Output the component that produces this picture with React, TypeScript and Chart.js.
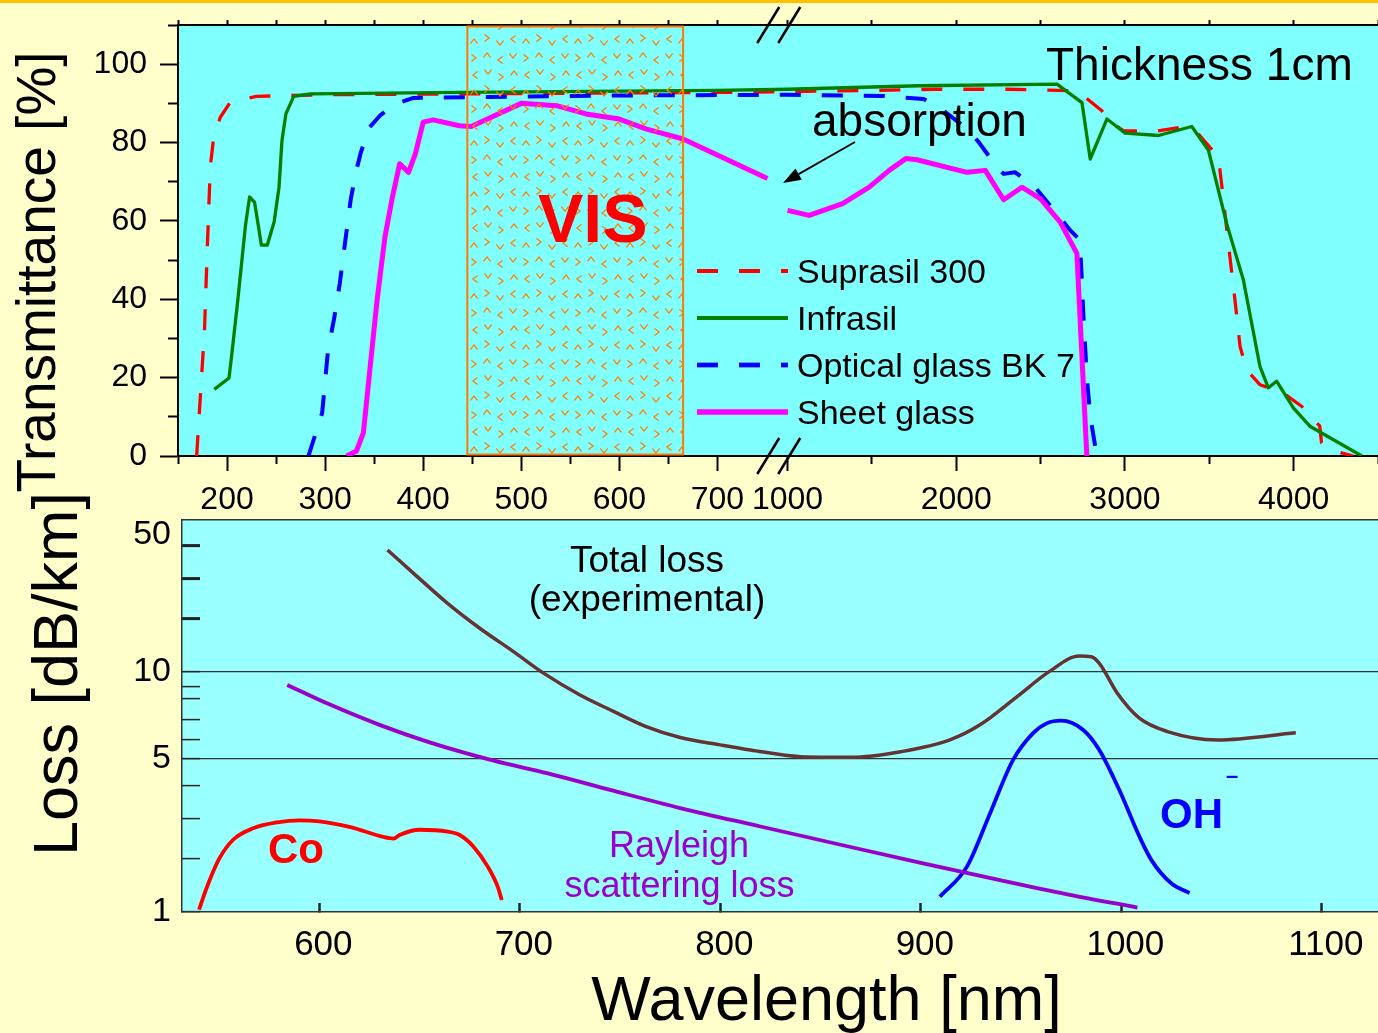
import { useEffect, useRef } from 'react';
import { Chart, registerables, LinearScale } from 'chart.js';

Chart.register(...registerables);

const FONT = '"Liberation Sans", Arial, Helvetica, sans-serif';
const W = 1378;
const H = 1033;

// ---------------- Top panel: transmittance [%] vs wavelength [nm] ----------------
const SUPRASIL_NM = [169, 173, 177, 180, 183, 186, 193, 203, 230, 300, 500, 700, 1000, 1500, 1870, 2300, 2715, 2755, 2863, 2903, 2992, 3189, 3327, 3426, 3554, 3584, 3613, 3652, 3682, 3721, 3800, 3938, 4047, 4155, 4165, 4274, 4353];
const SUPRASIL_T = [0, 16, 32, 54, 74, 80.5, 86.4, 90.2, 91.8, 92.2, 92.5, 92.8, 93.0, 93.3, 93.6, 93.6, 93.2, 91.9, 88.1, 85.6, 83, 82.9, 83.9, 82.6, 76.3, 65.3, 54.2, 39.8, 28, 22, 18.2, 16.1, 12.7, 7.6, 3.4, 0.9, 0];

const INFRASIL_NM = [187, 202, 205, 211, 219, 223, 228, 231, 235, 241, 248, 253, 256, 260, 268, 285, 437, 700, 1000, 1780, 2597, 2745, 2794, 2893, 3001, 3199, 3396, 3495, 3603, 3702, 3800, 3850, 3899, 3998, 4096, 4404];
const INFRASIL_T = [17, 19.9, 26.3, 39.8, 59.3, 66.1, 64.8, 60.2, 53.8, 53.8, 59.7, 68.6, 80.5, 87.3, 91.8, 92.4, 92.8, 93.3, 93.6, 94.5, 94.9, 90.2, 75.8, 86, 82.4, 81.8, 84.1, 78, 59.3, 44.9, 22.9, 17.4, 19.1, 12.3, 7.6, 0];

const BK7_NM = [283, 297, 303, 309, 315, 320, 326, 331, 336, 344, 356, 371, 390, 417, 600, 1000, 1561, 1807, 1926, 2064, 2133, 2242, 2281, 2350, 2468, 2676, 2725, 2735, 2755, 2774, 2794, 2833];
const BK7_T = [0, 11, 27.1, 34.8, 44.1, 53.8, 65.3, 72, 77.1, 83.5, 86.9, 89.8, 91.4, 91.5, 92, 92.2, 91.9, 91.1, 88.1, 83.5, 80.1, 73.7, 72, 72.4, 68.6, 57.6, 55.5, 53.4, 34.7, 20.3, 10.2, 0];

const SHEET_NM = [322, 332, 339, 346, 353, 361, 368, 376, 385, 392, 400, 410, 437, 449, 500, 536, 566, 600, 627, 665, 751, 850, 1000, 1128, 1326, 1484, 1602, 1701, 1767, 2064, 2172, 2281, 2389, 2498, 2616, 2715, 2774];
const SHEET_T = [0, 1.3, 5.9, 22.9, 39.8, 55.9, 65.3, 74.6, 72.4, 77.1, 85.2, 85.8, 84.3, 84.1, 90, 89.4, 87.3, 86, 83.5, 80.9, 70.8, null, 62.7, 61.4, 64.4, 68.6, 72.9, 75.9, 75.6, 72.4, 72.9, 65.4, 68.6, 65.7, 59.7, 51.7, 0];

const TOP_X_TICKS = [150, 200, 250, 300, 350, 400, 450, 500, 550, 600, 650, 700, 1000, 1500, 2000, 2500, 3000, 3500, 4000, 4500];
const TOP_X_LABELS = [200, 300, 400, 500, 600, 700, 1000, 2000, 3000, 4000];
const TOP_Y_TICKS = [0, 10, 20, 30, 40, 50, 60, 70, 80, 90, 100, 110];
const TOP_Y_LABELS = [0, 20, 40, 60, 80, 100];
const VIS_RANGE = [445, 665];

// ---------------- Bottom panel: loss [dB/km] vs wavelength [nm] ----------------
const TOTAL_NM = [634, 647, 663.5, 680, 697, 712, 730, 747, 763, 780, 800, 815, 840, 865, 890, 914.5, 929.5, 948, 964, 979, 985, 989, 998, 1009, 1023, 1048, 1087];
const TOTAL_DB = [38.6, 31.5, 23.6, 17.7, 13.0, 9.9, 8.32, 7.38, 6.65, 6.11, 5.72, 5.45, 5.11, 5.08, 5.36, 6.0, 6.74, 8.19, 10.04, 12.3, 12.2, 11.2, 8.46, 7.08, 6.4, 6.0, 6.34];

const RAYLEIGH_NM = [584, 605, 630, 655, 687, 714, 747, 780, 820, 860, 900, 940, 973, 1008];
const RAYLEIGH_DB = [9.13, 7.73, 6.74, 5.86, 4.93, 4.44, 3.83, 3.3, 2.78, 2.31, 1.9, 1.51, 1.26, 1.06];

const OH_NM = [909.5, 923, 934.5, 946, 956, 963, 970, 981, 989, 999, 1009, 1015, 1025, 1034];
const OH_DB = [1.22, 1.81, 3.15, 4.96, 6.32, 6.83, 6.96, 6.48, 5.45, 3.86, 2.51, 1.97, 1.45, 1.28];

const CO_NM = [540, 544, 550, 557, 567, 579, 590, 600, 615, 632, 637, 640, 650, 664, 670, 677, 684, 689, 691];
const CO_DB = [1.03, 1.39, 2.0, 2.43, 2.73, 2.9, 2.96, 2.93, 2.77, 2.5, 2.46, 2.55, 2.69, 2.64, 2.55, 2.26, 1.81, 1.39, 1.17];

const LOSS_X_TICKS = [600, 700, 800, 900, 1000, 1100];
const LOSS_Y_TICKS = [1, 2, 3, 4, 5, 6, 7, 8, 9, 10, 20, 30, 40, 50];
const LOSS_Y_LABELS = [1, 5, 10, 50];
const LOSS_Y_GRID = [5, 10];
const LOSS_Y_HEAVY = [20, 30, 40];

// ---------------- axis calibration (broken / hand-drawn scales) ----------------
const NM_BREAK = { leftEnd: 760, rightStart: 933, rightScale: 0.172 };
const LOSS_AXIS_VALUES = [1, 2, 3, 4, 5, 6, 7, 8, 9, 10, 20, 30, 40, 50, 60];
const LOSS_AXIS_DECADES = [0, 0.221, 0.3875, 0.525, 0.6375, 0.717, 0.8, 0.8875, 0.9375, 1, 1.221, 1.3875, 1.525, 1.571, 1.633];

function warpNm(v: number): number {
  if (v <= NM_BREAK.leftEnd) return v;
  if (v >= NM_BREAK.rightStart) return NM_BREAK.leftEnd + (v - NM_BREAK.rightStart) * NM_BREAK.rightScale;
  return NM_BREAK.leftEnd;
}

function warpLoss(v: number): number {
  const lv = Math.log10(Math.max(v, 1e-3));
  const n = LOSS_AXIS_VALUES.length;
  let i = 1;
  while (i < n - 1 && lv > Math.log10(LOSS_AXIS_VALUES[i])) i++;
  const a = Math.log10(LOSS_AXIS_VALUES[i - 1]);
  const b = Math.log10(LOSS_AXIS_VALUES[i]);
  const t = (lv - a) / (b - a);
  return LOSS_AXIS_DECADES[i - 1] + t * (LOSS_AXIS_DECADES[i] - LOSS_AXIS_DECADES[i - 1]);
}

class WarpedScale extends LinearScale {
  warpValue(v: number): number {
    return v;
  }
  getPixelForValue(value: any): number {
    if (value === null || value === undefined || Number.isNaN(value)) return NaN;
    const a = this.warpValue((this as any).min);
    const b = this.warpValue((this as any).max);
    return (this as any).getPixelForDecimal((this.warpValue(value) - a) / (b - a));
  }
}
class BrokenNmScale extends WarpedScale {
  static id = 'brokenNm';
  static defaults = {};
  warpValue(v: number): number {
    return warpNm(v);
  }
}
class LossScale extends WarpedScale {
  static id = 'lossWarp';
  static defaults = {};
  warpValue(v: number): number {
    return warpLoss(v);
  }
}
Chart.register(BrokenNmScale as any, LossScale as any);

function pairs(xs: number[], ys: (number | null)[]) {
  return xs.map((x, i) => ({ x, y: ys[i] }));
}

function font(size: number, bold = false) {
  return `${bold ? 'bold ' : ''}${size}px ${FONT}`;
}

function text(ctx: CanvasRenderingContext2D, s: string, x: number, y: number, f: string, color: string, align: CanvasTextAlign = 'left', rot = 0) {
  ctx.save();
  ctx.translate(x, y);
  if (rot) ctx.rotate(rot);
  ctx.font = f;
  ctx.fillStyle = color;
  ctx.textAlign = align;
  ctx.textBaseline = 'alphabetic';
  ctx.fillText(s, 0, 0);
  ctx.restore();
}

// fixes a scale's box to an exact size and removes label overflow padding
function fixBox(size: { width?: number; height?: number }) {
  return (s: any) => {
    if (size.width !== undefined) s.width = size.width;
    if (size.height !== undefined) s.height = size.height;
    s.paddingLeft = 0;
    s.paddingRight = 0;
    s.paddingTop = 0;
    s.paddingBottom = 0;
  };
}

const VIS_MARKS: [number, number, string][] = [
  [6, 7, '>'], [19, 4, '^'], [32, 9, '<'], [45, 5, 'v'],
  [7, 24, '<'], [20, 21, 'v'], [33, 26, '>'], [46, 22, '^'],
  [6, 41, '^'], [19, 38, '>'], [32, 43, 'v'], [45, 39, '<'],
];

function makeVisPattern(ctx: CanvasRenderingContext2D) {
  const tile = document.createElement('canvas');
  tile.width = 52;
  tile.height = 51;
  const t = tile.getContext('2d')!;
  t.strokeStyle = '#FF8000';
  t.lineWidth = 1.25;
  t.lineCap = 'round';
  t.lineJoin = 'round';
  const s = 3.3;
  const d = 2.2;
  for (const [x, y, k] of VIS_MARKS) {
    t.beginPath();
    if (k === '<') { t.moveTo(x + d, y - s); t.lineTo(x - d, y); t.lineTo(x + d, y + s); }
    if (k === '>') { t.moveTo(x - d, y - s); t.lineTo(x + d, y); t.lineTo(x - d, y + s); }
    if (k === '^') { t.moveTo(x - s, y + d); t.lineTo(x, y - d); t.lineTo(x + s, y + d); }
    if (k === 'v') { t.moveTo(x - s, y - d); t.lineTo(x, y + d); t.lineTo(x + s, y - d); }
    t.stroke();
  }
  return ctx.createPattern(tile, 'repeat')!;
}

const topDecor = {
  id: 'topDecor',
  beforeDraw(chart: any) {
    const { ctx, chartArea: a } = chart;
    ctx.save();
    ctx.fillStyle = '#80FFFF';
    ctx.fillRect(a.left, a.top, a.right - a.left, a.bottom - a.top);
    ctx.restore();
  },
  afterDatasetsDraw(chart: any) {
    const { ctx, chartArea: a, scales } = chart;
    const x0 = scales.x.getPixelForValue(VIS_RANGE[0]);
    const x1 = scales.x.getPixelForValue(VIS_RANGE[1]);
    ctx.save();
    ctx.fillStyle = makeVisPattern(ctx);
    ctx.fillRect(x0, a.top + 1, x1 - x0, a.bottom - a.top - 2);
    ctx.strokeStyle = '#FF7A00';
    ctx.lineWidth = 2;
    ctx.strokeRect(x0, a.top + 1.5, x1 - x0, a.bottom - a.top - 3);
    ctx.restore();
  },
  afterDraw(chart: any) {
    const { ctx, chartArea: a, scales } = chart;
    ctx.save();
    // axis break marks
    const bx = scales.x.getPixelForValue(NM_BREAK.leftEnd) + 2;
    ctx.strokeStyle = '#000';
    ctx.lineWidth = 2.5;
    for (const yc of [a.top, a.bottom]) {
      for (const dx of [0, 21]) {
        ctx.beginPath();
        ctx.moveTo(bx - 21 + dx, yc + 18);
        ctx.lineTo(bx + 1 + dx, yc - 18);
        ctx.stroke();
      }
    }
    // legend
    const rows = [271, 318, 365, 412];
    chart.data.datasets.forEach((ds: any, i: number) => {
      const y = rows[i];
      ctx.beginPath();
      ctx.setLineDash(ds.borderDash || []);
      ctx.strokeStyle = ds.borderColor;
      ctx.lineWidth = ds.borderWidth + 0.7;
      ctx.moveTo(697, y);
      ctx.lineTo(788, y);
      ctx.stroke();
      ctx.setLineDash([]);
      text(ctx, ds.label, 797, y + 12, font(34), '#000');
    });
    // annotations
    text(ctx, 'VIS', 538, 242, font(68, true), '#FF0000');
    text(ctx, 'Thickness 1cm', 1046, 80, font(46), '#000');
    text(ctx, 'absorption', 812, 136, font(46), '#000');
    // arrow
    const ax0 = 855, ay0 = 142, ax1 = 783, ay1 = 183;
    const ang = Math.atan2(ay1 - ay0, ax1 - ax0);
    const hl = 18, hw = 6.5;
    const bxh = ax1 - hl * Math.cos(ang), byh = ay1 - hl * Math.sin(ang);
    ctx.strokeStyle = '#000';
    ctx.lineWidth = 1.8;
    ctx.beginPath();
    ctx.moveTo(ax0, ay0);
    ctx.lineTo(bxh, byh);
    ctx.stroke();
    ctx.fillStyle = '#000';
    ctx.beginPath();
    ctx.moveTo(ax1, ay1);
    ctx.lineTo(bxh + hw * Math.sin(ang), byh - hw * Math.cos(ang));
    ctx.lineTo(bxh - hw * Math.sin(ang), byh + hw * Math.cos(ang));
    ctx.closePath();
    ctx.fill();
    // y title
    text(ctx, 'Transmittance [%]', 55, 272, font(55), '#000', 'center', -Math.PI / 2);
    ctx.restore();
  },
};

const bottomDecor = {
  id: 'bottomDecor',
  beforeDraw(chart: any) {
    const { ctx, chartArea: a } = chart;
    ctx.save();
    ctx.fillStyle = '#99FFFF';
    ctx.fillRect(a.left, a.top, a.right - a.left, a.bottom - a.top);
    ctx.restore();
  },
  afterDraw(chart: any) {
    const { ctx } = chart;
    ctx.save();
    text(ctx, 'Total loss', 647, 572, font(37), '#000', 'center');
    text(ctx, '(experimental)', 647, 611, font(37), '#000', 'center');
    text(ctx, 'Rayleigh', 679, 857, font(36), '#9900CC', 'center');
    text(ctx, 'scattering loss', 679.5, 897, font(36), '#9900CC', 'center');
    text(ctx, 'Co', 268, 863, font(42, true), '#FF0000');
    text(ctx, 'OH', 1160, 828, font(42, true), '#0000FF');
    text(ctx, '\u2013', 1226, 783, font(22, true), '#0000FF');
    text(ctx, 'Wavelength [nm]', 826.5, 1020, font(63), '#000', 'center');
    text(ctx, 'Loss [dB/km]', 77, 674, font(63), '#000', 'center', -Math.PI / 2);
    ctx.restore();
  },
};

const lineBase = {
  pointRadius: 0,
  pointHoverRadius: 0,
  fill: false,
  borderCapStyle: 'butt',
  borderJoinStyle: 'round',
};

function topConfig(): any {
  const datasets = [
    { label: 'Suprasil 300', data: pairs(SUPRASIL_NM, SUPRASIL_T), borderColor: '#FF0000', borderWidth: 3.3, borderDash: [21, 21], order: 3 },
    { label: 'Infrasil', data: pairs(INFRASIL_NM, INFRASIL_T), borderColor: '#008000', borderWidth: 3.3, order: 1 },
    { label: 'Optical glass BK 7', data: pairs(BK7_NM, BK7_T), borderColor: '#0000FF', borderWidth: 4, borderDash: [21, 21], order: 2 },
    { label: 'Sheet glass', data: pairs(SHEET_NM, SHEET_T), borderColor: '#FF00FF', borderWidth: 5, order: 0 },
  ].map((d) => ({ ...lineBase, tension: 0, ...d }));

  const xTicks = (s: any) => {
    s.ticks = TOP_X_TICKS.map((v) => ({ value: v }));
  };
  const isMajorX = (v: number) => TOP_X_LABELS.includes(v);

  return {
    type: 'line',
    data: { datasets },
    options: {
      responsive: false,
      animation: false,
      devicePixelRatio: 1,
      events: [],
      spanGaps: false,
      layout: { padding: { top: 20, bottom: H - 520, left: 0, right: 0 }, autoPadding: false },
      plugins: { legend: { display: false }, tooltip: { enabled: false } },
      scales: {
        x: {
          type: 'brokenNm',
          position: 'bottom',
          min: 150,
          max: 4500,
          afterBuildTicks: xTicks,
          afterFit: fixBox({ height: 64 }),
          ticks: {
            autoSkip: false,
            maxRotation: 0,
            minRotation: 0,
            padding: 10,
            color: '#000',
            font: { family: FONT, size: 32 },
            callback: (v: number) => (isMajorX(v) ? String(v) : ''),
          },
          grid: {
            drawOnChartArea: false,
            tickLength: 15,
            tickWidth: 2,
            tickColor: '#000',
            tickBorderDash: (ctx: any) => (ctx.tick && isMajorX(ctx.tick.value) ? [] : [7, 60]),
          },
          border: { display: true, color: '#000', width: 2 },
        },
        x2: {
          type: 'brokenNm',
          position: 'top',
          axis: 'x',
          min: 150,
          max: 4500,
          afterBuildTicks: xTicks,
          afterFit: fixBox({ height: 5 }),
          ticks: { display: false, autoSkip: false },
          grid: { drawOnChartArea: false, tickLength: 5, tickWidth: 2, tickColor: '#000' },
          border: { display: true, color: '#000', width: 2 },
        },
        y: {
          type: 'linear',
          position: 'left',
          min: 0,
          max: 110,
          afterBuildTicks: (s: any) => { s.ticks = TOP_Y_TICKS.map((v) => ({ value: v })); },
          afterFit: fixBox({ width: 178 }),
          ticks: {
            autoSkip: false,
            padding: 13,
            color: '#000',
            font: { family: FONT, size: 32 },
            callback: (v: number) => (TOP_Y_LABELS.includes(v) ? String(v) : ''),
          },
          grid: {
            drawOnChartArea: false,
            tickLength: 18,
            tickWidth: 2,
            tickColor: '#000',
            tickBorderDash: (ctx: any) => (ctx.tick && TOP_Y_LABELS.includes(ctx.tick.value) ? [] : [0, 8, 40, 0]),
          },
          border: { display: true, color: '#000', width: 2 },
        },
      },
    },
    plugins: [topDecor],
  };
}

function bottomConfig(): any {
  const datasets = [
    { label: 'Total loss (experimental)', data: pairs(TOTAL_NM, TOTAL_DB), borderColor: '#663333', borderWidth: 3.5 },
    { label: 'Rayleigh scattering loss', data: pairs(RAYLEIGH_NM, RAYLEIGH_DB), borderColor: '#9900CC', borderWidth: 3.8 },
    { label: 'OH-', data: pairs(OH_NM, OH_DB), borderColor: '#0000FF', borderWidth: 3.8 },
    { label: 'Co', data: pairs(CO_NM, CO_DB), borderColor: '#FF0000', borderWidth: 3.8 },
  ].map((d) => ({ ...lineBase, cubicInterpolationMode: 'monotone', ...d }));

  return {
    type: 'line',
    data: { datasets },
    options: {
      responsive: false,
      animation: false,
      devicePixelRatio: 1,
      events: [],
      layout: { padding: { top: 520, bottom: 0, left: 0, right: 0 }, autoPadding: false },
      plugins: { legend: { display: false }, tooltip: { enabled: false } },
      scales: {
        x: {
          type: 'linear',
          position: 'bottom',
          min: 531.5,
          max: 1128,
          afterBuildTicks: (s: any) => { s.ticks = LOSS_X_TICKS.map((v) => ({ value: v })); },
          afterFit: fixBox({ height: H - 912 }),
          ticks: {
            autoSkip: false,
            maxRotation: 0,
            minRotation: 0,
            padding: 21,
            labelOffset: 4,
            color: '#000',
            font: { family: FONT, size: 35 },
            callback: (v: number) => String(v),
          },
          grid: { drawOnChartArea: false, tickLength: -9, tickWidth: 2.5, tickColor: '#222' },
          border: { display: true, color: '#333', width: 1.5 },
        },
        x2: {
          type: 'linear',
          position: 'top',
          axis: 'x',
          min: 531.5,
          max: 1128,
          afterFit: fixBox({ height: 0 }),
          ticks: { display: false },
          grid: { display: false, drawTicks: false },
          border: { display: true, color: '#333', width: 1.5 },
        },
        y: {
          type: 'lossWarp',
          position: 'left',
          min: 1,
          max: 60,
          afterBuildTicks: (s: any) => { s.ticks = LOSS_Y_TICKS.map((v) => ({ value: v })); },
          afterFit: fixBox({ width: 182 }),
          ticks: {
            autoSkip: false,
            padding: 29,
            color: '#000',
            font: { family: FONT, size: 34 },
            callback: (v: number) => (LOSS_Y_LABELS.includes(v) ? String(v) : ''),
          },
          grid: {
            drawOnChartArea: true,
            color: (ctx: any) => (ctx.tick && LOSS_Y_GRID.includes(ctx.tick.value) ? '#333' : 'rgba(0,0,0,0)'),
            lineWidth: 1.2,
            tickLength: -18,
            tickWidth: (ctx: any) => (ctx.tick && LOSS_Y_HEAVY.includes(ctx.tick.value) ? 3 : 1.5),
            tickColor: (ctx: any) => (ctx.tick && ctx.tick.value === 50 ? 'rgba(0,0,0,0)' : '#222'),
          },
          border: { display: true, color: '#333', width: 1.5 },
        },
      },
    },
    plugins: [bottomDecor],
  };
}

export default function App() {
  const topRef = useRef<HTMLCanvasElement>(null);
  const botRef = useRef<HTMLCanvasElement>(null);

  useEffect(() => {
    const c1 = new Chart(topRef.current!, topConfig());
    const c2 = new Chart(botRef.current!, bottomConfig());
    return () => {
      c1.destroy();
      c2.destroy();
    };
  }, []);

  return (
    <div style={{ position: 'fixed', left: 0, top: 0, width: W, height: H, background: '#FFFFCC', overflow: 'hidden' }}>
      <div style={{ position: 'absolute', left: 0, top: 0, width: W, height: 3, background: '#FFC000' }} />
      <canvas ref={topRef} width={W} height={H} style={{ position: 'absolute', left: 0, top: 0 }} />
      <canvas ref={botRef} width={W} height={H} style={{ position: 'absolute', left: 0, top: 0 }} />
    </div>
  );
}
